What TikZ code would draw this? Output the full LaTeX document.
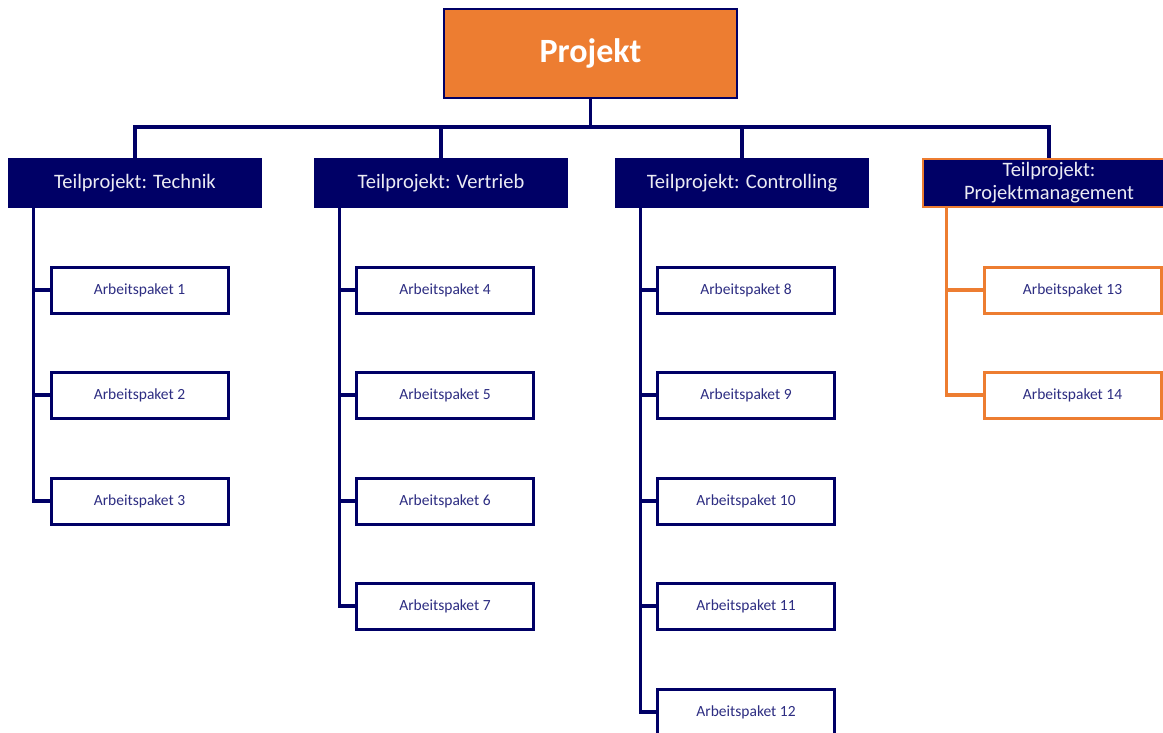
\documentclass[tikz,border=0pt]{standalone}
\usepackage{fontspec}
\setmainfont{Carlito}
\definecolor{navy}{RGB}{0,0,102}
\definecolor{aptext}{RGB}{45,45,130}
\definecolor{orng}{RGB}{237,125,49}
\begin{document}
\begin{tikzpicture}[x=1pt,y=-1pt,
  root/.style={draw=navy,line width=2.4pt,fill=orng,minimum width=293pt,minimum height=89pt,
    text=white,font=\fontsize{34}{38}\selectfont\bfseries,inner sep=0pt},
  sub/.style={draw=navy,line width=2.4pt,fill=navy,minimum width=252pt,minimum height=48pt,
    text=white!92!navy,font=\fontsize{20.5}{23}\selectfont,inner sep=0pt,align=center},
  ap/.style={draw=navy,line width=3pt,fill=white,minimum width=177pt,minimum height=46pt,
    text=aptext,font=\fontsize{15.5}{18}\selectfont,inner sep=0pt},
  apo/.style={ap,draw=orng},
  link/.style={draw=navy,line width=3.2pt},
  linko/.style={draw=orng,line width=3.2pt}]
\useasboundingbox (0,0) rectangle (1163,733);

% top level
\node[root] (proj) at (590.5,53.5) {Projekt};

% sub projects
\node[sub] (tech) at (135,183) {Teilprojekt: Technik};
\node[sub] (vert) at (441,183) {Teilprojekt: Vertrieb};
\node[sub] (ctrl) at (742,183) {Teilprojekt: Controlling};
\node[sub,draw=orng] (pm) at (1049,183) {Teilprojekt:\\Projektmanagement};

% work packages
\node[ap] (a1) at (139.5,290) {Arbeitspaket 1};
\node[ap] (a2) at (139.5,395) {Arbeitspaket 2};
\node[ap] (a3) at (139.5,501) {Arbeitspaket 3};
\node[ap] (a4) at (445,290) {Arbeitspaket 4};
\node[ap] (a5) at (445,395) {Arbeitspaket 5};
\node[ap] (a6) at (445,501) {Arbeitspaket 6};
\node[ap] (a7) at (445,606) {Arbeitspaket 7};
\node[ap] (a8) at (746,290) {Arbeitspaket 8};
\node[ap] (a9) at (746,395) {Arbeitspaket 9};
\node[ap] (a10) at (746,501) {Arbeitspaket 10};
\node[ap] (a11) at (746,606) {Arbeitspaket 11};
\node[ap] (a12) at (746,712) {Arbeitspaket 12};
\node[apo] (a13) at (1072.5,290) {Arbeitspaket 13};
\node[apo] (a14) at (1072.5,395) {Arbeitspaket 14};

% project to sub projects
\coordinate (bar) at (0,127);
\draw[link] (proj.south) -- (proj.south |- bar);
\draw[link] (tech.north) |- (proj.south |- bar) -| (pm.north);
\draw[link] (vert.north) -- (vert.north |- bar);
\draw[link] (ctrl.north) -- (ctrl.north |- bar);

% sub projects to work packages
\foreach \s/\list in {tech/{a1,a2,a3}, vert/{a4,a5,a6,a7}, ctrl/{a8,a9,a10,a11,a12}}{
  \foreach \a in \list {
    \draw[link] ([xshift=26pt]\s.south west) |- (\a.west);
  }
}
\foreach \a in {a13,a14}{
  \draw[linko] ([xshift=25pt]pm.south west) |- (\a.west);
}
\end{tikzpicture}
\end{document}
